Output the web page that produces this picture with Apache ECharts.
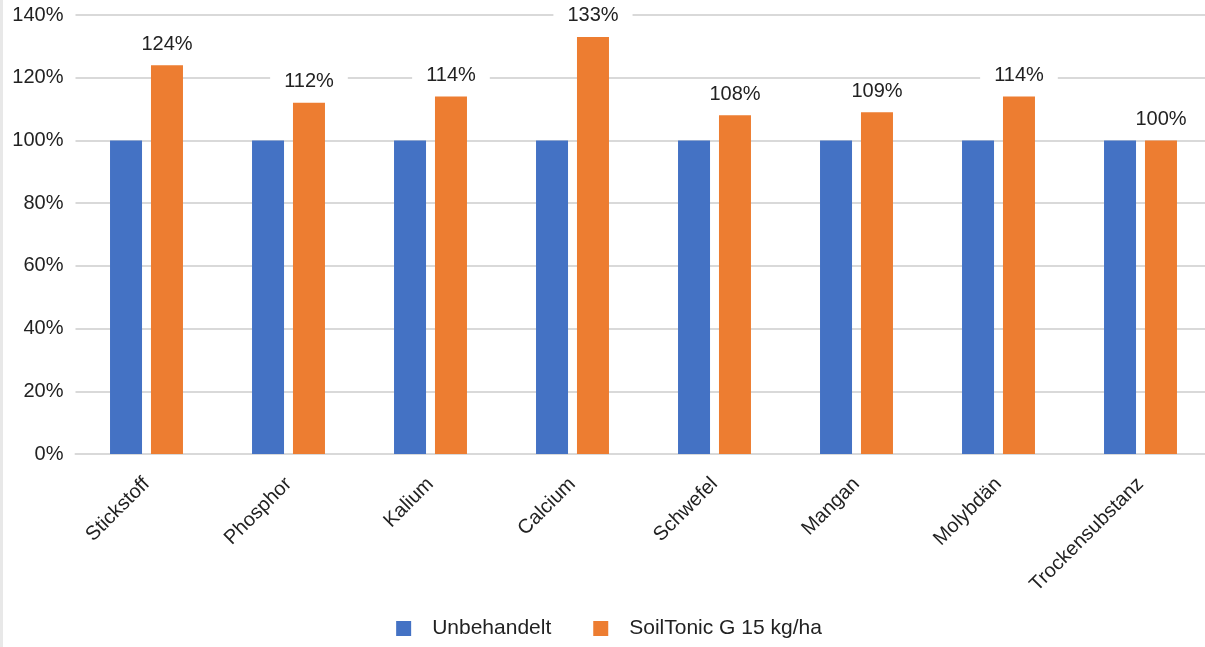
<!DOCTYPE html>
<html>
<head>
<meta charset="utf-8">
<script src="https://cdn.jsdelivr.net/npm/echarts@6/dist/echarts.min.js"></script>
<style>
  html, body { margin: 0; padding: 0; background: #fff; overflow: hidden; }
  /* canvas is a little wider than the window so the plot runs off the right edge */
  #chart { width: 1215px; height: 647px; box-sizing: border-box; border-left: 3px solid #e8e8e8; }
</style>
</head>
<body>
<div id="chart"></div>
<script>
// Nutrient uptake relative to the untreated control
const categories = ['Stickstoff', 'Phosphor', 'Kalium', 'Calcium', 'Schwefel', 'Mangan', 'Molybdän', 'Trockensubstanz'];
const untreated = [100, 100, 100, 100, 100, 100, 100, 100];
const soilTonic = [124, 112, 114, 133, 108, 109, 114, 100];
const seriesNames = ['Unbehandelt', 'SoilTonic G 15 kg/ha'];
const yTicks = [0, 20, 40, 60, 80, 100, 120, 140];

const font = 'Liberation Sans, Arial, sans-serif';
const chart = echarts.init(document.getElementById('chart'), null, { renderer: 'canvas' });

chart.setOption({
  animation: false,
  backgroundColor: '#fff',
  textStyle: { fontFamily: font },
  grid: { left: 72.5, right: 3.5, top: 15, bottom: 193, containLabel: false },
  legend: {
    data: seriesNames,
    bottom: 3,
    left: 'center',
    itemWidth: 15,
    itemHeight: 15,
    itemGap: 42,
    icon: 'rect',
    textStyle: { fontSize: 21, color: '#222', fontFamily: font, padding: [0, 0, 0, 16] }
  },
  xAxis: {
    type: 'category',
    data: categories,
    axisLine: { show: true, lineStyle: { color: '#d9d9d9', width: 2 } },
    axisTick: { show: false },
    axisLabel: {
      rotate: 45,
      fontSize: 20,
      color: '#222',
      fontFamily: font,
      margin: 27,
      interval: 0
    }
  },
  yAxis: {
    type: 'value',
    min: yTicks[0],
    max: yTicks[yTicks.length - 1],
    interval: 20,
    axisLine: { show: false },
    axisTick: { show: false },
    splitLine: { lineStyle: { color: '#d9d9d9', width: 2 } },
    axisLabel: {
      formatter: v => v + '%',
      fontSize: 20,
      color: '#222',
      fontFamily: font,
      margin: 12
    }
  },
  series: [
    {
      name: seriesNames[0],
      type: 'bar',
      data: untreated,
      barWidth: 32,
      barGap: '28%',
      itemStyle: { color: '#4472C4' }
    },
    {
      name: seriesNames[1],
      type: 'bar',
      data: soilTonic,
      barWidth: 32,
      itemStyle: { color: '#ED7D31' },
      z: 3,
      label: {
        show: true,
        position: 'top',
        distance: 9,
        formatter: p => p.value + '%',
        fontSize: 20,
        color: '#222',
        fontFamily: font,
        backgroundColor: '#fff',
        padding: [2, 14, 2, 14]
      }
    }
  ]
});
</script>
</body>
</html>
